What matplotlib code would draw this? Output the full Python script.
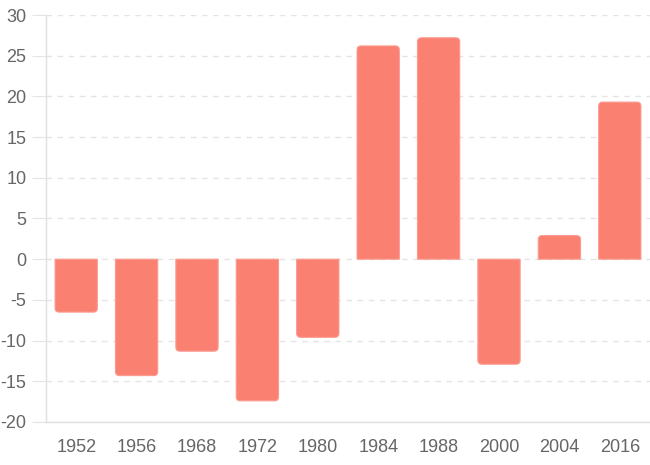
import matplotlib.pyplot as plt
from matplotlib.path import Path
from matplotlib.patches import PathPatch

years = ['1952', '1956', '1968', '1972', '1980', '1984', '1988', '2000', '2004', '2016']
values = [-6.5, -14.3, -11.3, -17.4, -9.6, 26.2, 27.2, -12.9, 2.9, 19.3]

plt.rcParams['font.family'] = ['Liberation Sans', 'DejaVu Sans']
plt.rcParams['axes.unicode_minus'] = False

fig = plt.figure(figsize=(6.5, 4.65), dpi=100)
ax = fig.add_axes([46 / 650, 1 - 422 / 465, 604 / 650, 407 / 465])

ax.set_xlim(-0.5, len(years) - 0.5)
ax.set_ylim(-20, 30)

bars = ax.bar(range(len(years)), values, width=0.7, color='none', zorder=3)

# rounded ends like the original, radius in pixels converted to data units
rad_px = 4
xpp = (len(years)) / 604.0
ypp = 50 / 407.0
rx, ry = rad_px * xpp, rad_px * ypp
for b, v in zip(bars, values):
    x0 = b.get_x()
    x1 = x0 + b.get_width()
    s = 1 if v >= 0 else -1
    end = v
    r_y = min(ry, abs(v) / 2)
    verts = [(x0, 0), (x0, end - s * r_y), (x0, end), (x0 + rx, end),
             (x1 - rx, end), (x1, end), (x1, end - s * r_y), (x1, 0), (x0, 0)]
    codes = [Path.MOVETO, Path.LINETO, Path.CURVE3, Path.CURVE3,
             Path.LINETO, Path.CURVE3, Path.CURVE3, Path.LINETO, Path.CLOSEPOLY]
    ax.add_patch(PathPatch(Path(verts, codes), facecolor='#fa8072',
                           edgecolor='#fb9b90', linewidth=0.8, zorder=3))

ax.set_yticks(range(-20, 31, 5))
ax.set_xticks(range(len(years)))
ax.set_xticklabels(years)
ax.yaxis.grid(True, color='#e4e4e4', linestyle=(0, (4, 4)), linewidth=1)
ax.set_axisbelow(True)

for side in ['top', 'right']:
    ax.spines[side].set_visible(False)
for side in ['left', 'bottom']:
    ax.spines[side].set_color('#e0e0e0')
    ax.spines[side].set_linewidth(1)

ax.tick_params(axis='y', length=10, color='#e4e4e4', labelcolor='#666666',
               labelsize=13, pad=4)
ax.tick_params(axis='x', length=0, labelcolor='#666666', labelsize=13, pad=12)

fig.savefig('out.png', dpi=100)
